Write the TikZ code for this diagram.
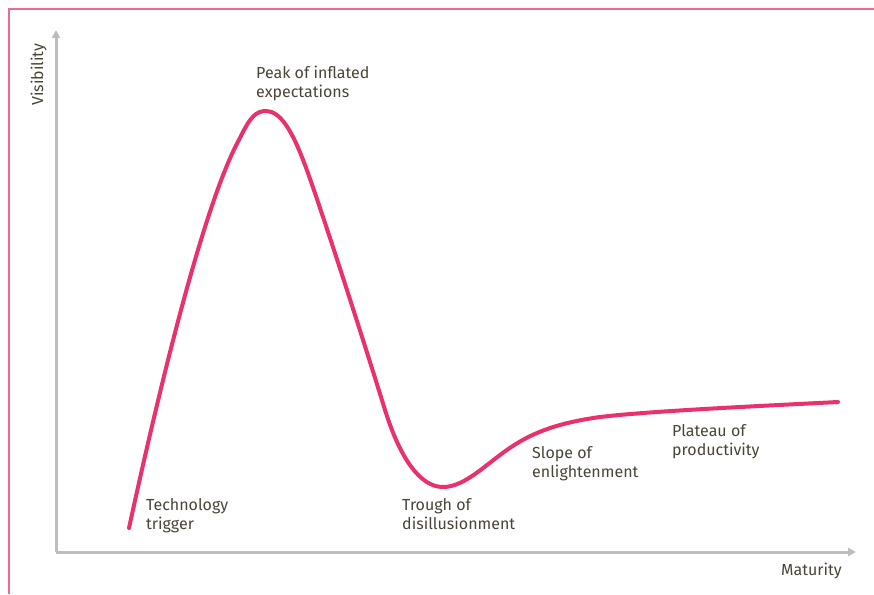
\documentclass[tikz,border=0pt]{standalone}
\usepackage{fontspec}
\setmainfont{Fira Sans}
\usetikzlibrary{arrows.meta}
\definecolor{hype}{HTML}{E8316D}
\definecolor{frame}{HTML}{EE6A94}
\definecolor{axisgray}{HTML}{BDBDBD}
\definecolor{txt}{HTML}{4A4436}
\tikzset{
  lbl/.style={anchor=base west, align=left, text=txt, inner sep=0pt,
    font=\fontsize{16}{19}\selectfont},
  axisline/.style={draw=axisgray, line width=3pt,
    -{Triangle[length=8pt,width=8pt]}},
  curve/.style={draw=hype, line width=4pt, line cap=round, line join=round}
}
\begin{document}
\begin{tikzpicture}[x=1pt,y=-1pt]
\useasboundingbox (0,0) rectangle (874,594);
\draw[frame, line width=1.5pt] (9,594) -- (9,9) -- (874,9);
\coordinate (origin) at (56,552);
\coordinate (ytip) at (56,30);
\coordinate (xtip) at (856,552);
\draw[axisline] (origin) -- (ytip);
\draw[axisline] (origin) -- (xtip);
\draw[curve] (129,528) .. controls (160,385) and (205,200) .. (240,138)
  .. controls (250,117) and (256,111) .. (266,111)
  .. controls (280,111) and (292,130) .. (305,165)
  .. controls (320,205) and (365,345) .. (385,410)
  .. controls (400,458) and (420,487) .. (443,487)
  .. controls (462,487) and (480,470) .. (500,455)
  .. controls (525,436) and (550,424) .. (600,417)
  .. controls (650,411) and (760,406) .. (838,402);
\node[lbl] (tt) at (146,529) {Technology\\trigger};
\node[lbl] (pk) at (256,97) {Peak of inflated\\expectations};
\node[lbl] (tr) at (402,529) {Trough of\\disillusionment};
\node[lbl] (sl) at (532,477) {Slope of\\enlightenment};
\node[lbl] (pl) at (672,455) {Plateau of\\productivity};
\node[lbl] (mat) at (781,575) {Maturity};
\node[lbl, rotate=90] (vis) at (43,106) {Visibility};
\end{tikzpicture}
\end{document}
